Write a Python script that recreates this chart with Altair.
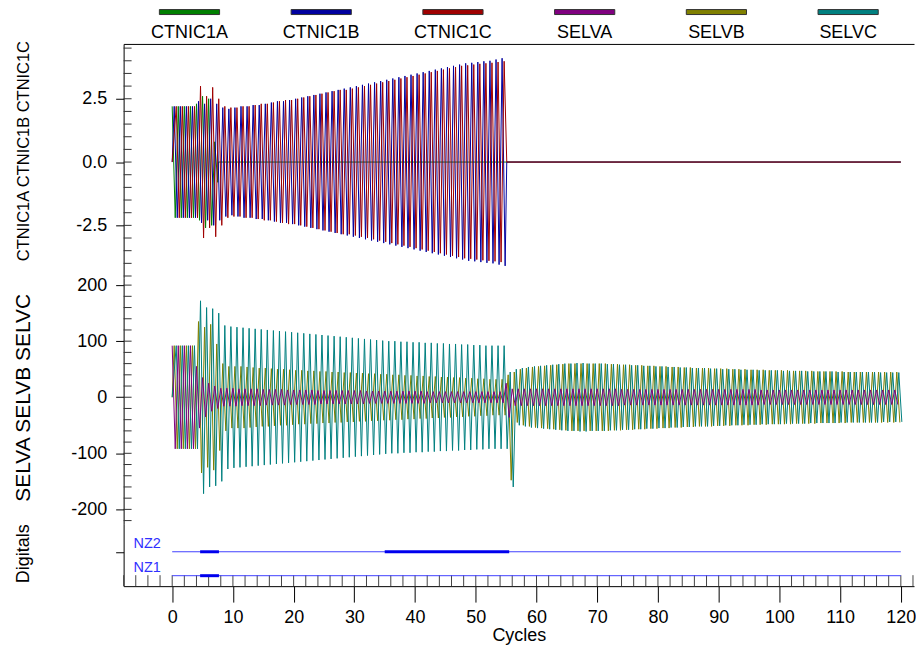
import altair as alt
import pandas as pd

FONT = "Liberation Sans"

# ---------------- data ----------------
series_names = ["CTNIC1A", "CTNIC1B", "CTNIC1C", "SELVA", "SELVB", "SELVC"]
series_colors = ["#008000", "#0000a0", "#a00000", "#800080", "#808000", "#008080"]

# phase offset (fraction of a cycle) of phases A, B, C
phase_A, phase_B, phase_C = 0.0, 1 / 3, 2 / 3

# current channels: peak amplitude per cycle (cycle 0, 1, 2, ...)
cur_amp_A = [2.2, 2.2, 2.2, 2.2, 2.3, 2.6, 2.5, 0.8]
cur_amp_B = [2.2, 2.2, 2.2, 2.2, 2.4, 2.3, 2.5, 2.3,
             2.15, 2.1, 2.15, 2.2, 2.2, 2.25, 2.25, 2.3, 2.35, 2.4, 2.4, 2.45,
             2.5, 2.55, 2.6, 2.65, 2.7, 2.75, 2.8, 2.85, 2.9, 2.95,
             3.0, 3.05, 3.1, 3.15, 3.2, 3.25, 3.3, 3.35, 3.4, 3.45,
             3.5, 3.55, 3.6, 3.65, 3.7, 3.75, 3.8, 3.85, 3.9, 3.92,
             3.95, 3.98, 4.0, 4.05, 4.1]
cur_amp_C = [2.2, 2.2, 2.2, 2.2, 3.0, 2.6, 2.95, 2.5,
             2.2, 2.15, 2.15, 2.2, 2.2, 2.25, 2.3, 2.3, 2.35, 2.4, 2.45, 2.45,
             2.5, 2.55, 2.6, 2.65, 2.7, 2.75, 2.8, 2.85, 2.85, 2.9,
             2.95, 3.0, 3.05, 3.1, 3.15, 3.2, 3.25, 3.3, 3.35, 3.4,
             3.45, 3.5, 3.55, 3.6, 3.65, 3.7, 3.75, 3.8, 3.82, 3.85,
             3.88, 3.9, 3.92, 3.95, 3.98]
cur_end_A = 7.6
cur_end_BC = 55.1

# voltage channels: peak amplitude per cycle
volt_amp_A = [92, 92, 92, 92, 55, 35, 25, 20, 16, 16,
              16, 15, 15, 15, 15, 14, 14, 14, 14, 13,
              13, 13, 13, 13, 12, 12, 12, 12, 12, 12,
              12, 12, 11, 11, 11, 11, 11, 11, 11, 11,
              11, 11, 10, 10, 10, 10, 10, 10, 10, 10,
              10, 10, 10, 10, 10, 25, 15, 15, 15, 15,
              15, 15, 15, 15, 15, 15, 15, 15, 15, 15,
              15, 15, 15, 15, 14, 14, 14, 14, 14, 14,
              14, 14, 14, 14, 14, 14, 14, 14, 14, 14,
              14, 14, 14, 14, 14, 14, 14, 13, 13, 13,
              13, 13, 13, 13, 13, 13, 13, 13, 13, 13,
              13, 13, 13, 13, 13, 13, 13, 13, 13, 13]
volt_amp_B = [92, 92, 92, 92, 135, 125, 130, 95, 60, 55,
              55, 55, 54, 53, 52, 52, 51, 50, 50, 49,
              48, 48, 47, 47, 46, 46, 45, 45, 44, 44,
              43, 43, 42, 42, 41, 41, 40, 40, 39, 39,
              38, 38, 37, 37, 36, 36, 35, 35, 34, 34,
              33, 33, 32, 32, 32, 40, 45, 50, 52, 54,
              55, 56, 57, 58, 59, 60, 60, 60, 60, 60,
              60, 60, 59, 59, 58, 58, 57, 57, 56, 56,
              55, 55, 54, 54, 53, 53, 52, 52, 52, 51,
              51, 51, 50, 50, 50, 49, 49, 49, 48, 48,
              48, 48, 47, 47, 47, 47, 46, 46, 46, 46,
              46, 45, 45, 45, 45, 45, 45, 45, 45, 45]
volt_amp_C = [92, 92, 92, 92, 172, 160, 158, 150, 128, 126,
              125, 124, 123, 122, 121, 120, 119, 118, 117, 116,
              115, 114, 113, 112, 111, 110, 109, 108, 107, 106,
              105, 104, 103, 102, 101, 100, 100, 99, 99, 98,
              98, 97, 97, 96, 96, 95, 95, 94, 94, 93,
              93, 92, 92, 92, 92, 45, 50, 52, 54, 55,
              56, 57, 58, 59, 60, 60, 61, 61, 60, 60,
              60, 59, 59, 58, 58, 57, 57, 56, 56, 55,
              55, 54, 54, 53, 53, 52, 52, 52, 51, 51,
              50, 50, 50, 49, 49, 49, 48, 48, 48, 48,
              47, 47, 47, 47, 46, 46, 46, 46, 46, 45,
              45, 45, 45, 45, 45, 45, 44, 44, 44, 44]
# negative peak transients at fault clearing (cycle index -> value)
volt_spike_A = {55: -36}
volt_spike_B = {55: -148}
volt_spike_C = {55: -160}
volt_end = 120.3

# digital channels
digital_names = ["NZ2", "NZ1"]
digital_levels = [2, 1]
digital_on_name = ["NZ2", "NZ2", "NZ1"]
digital_on_start = [4.6, 35.0, 4.6]
digital_on_end = [7.7, 55.5, 7.7]
record_start, record_end = 0, 120

# axis tick values
x_major = list(range(0, 121, 10))
x_minor = list(range(-8, 123, 2))
top_major = [-2.5, 0.0, 2.5]
top_minor = [v / 2 for v in range(-9, 10)]
mid_major = [-200, -100, 0, 100, 200]
mid_minor = list(range(-220, 201, 20))


def peaks(amps, phase, end_t, spikes=None, start_zero=True, tail_to=None):
    rows = [(0.0, 0.0)] if start_zero else []
    for i, a in enumerate(amps):
        tp, tn = i + phase, i + phase + 0.5
        neg = spikes[i] if spikes and i in spikes else -a
        if tp <= end_t:
            rows.append((tp, a))
        if tn <= end_t:
            rows.append((tn, neg))
    if tail_to is not None:
        rows.append((end_t, 0.0))
        rows.append((tail_to, 0.0))
    return pd.DataFrame(rows, columns=["t", "v"])


cur_A = peaks(cur_amp_A, phase_A, cur_end_A, start_zero=False, tail_to=record_end)
cur_B = peaks(cur_amp_B, phase_B, cur_end_BC, tail_to=record_end)
cur_C = peaks(cur_amp_C, phase_C, cur_end_BC, tail_to=record_end)
volt_A = peaks(volt_amp_A, phase_A, volt_end, volt_spike_A, start_zero=False)
volt_B = peaks(volt_amp_B, phase_B, volt_end, volt_spike_B)
volt_C = peaks(volt_amp_C, phase_C, volt_end, volt_spike_C)

# ---------------- layout ----------------
W = 793
x_scale = alt.Scale(domain=[-8, 122.17], nice=False, zero=False)
top_scale = alt.Scale(domain=[-4.585, 4.665], nice=False, zero=False)
mid_scale = alt.Scale(domain=[-226.7, 212.4], nice=False, zero=False)
dig_scale = alt.Scale(domain=[0.563, 3.146], nice=False, zero=False)

common_axis = dict(grid=False, domainColor="black", tickColor="black", labelColor="black",
                   labelFont=FONT, labelFontSize=18, titleFont=FONT, titleColor="black",
                   titleFontWeight="normal", domainWidth=1, tickWidth=1)

left_title = dict(titleAngle=270, titleAlign="center", titleBaseline="middle", titleX=-100)

top_x_axis = alt.Axis(orient="top", labels=False, ticks=False, domain=True, title=None,
                      grid=False, domainColor="black")
top_y_axis = alt.Axis(values=top_major, format=".1f", tickSize=8, labelPadding=9,
                      labelExpr="replace(datum.label, '\u2212', '-')",
                      title="CTNIC1A CTNIC1B CTNIC1C", titleFontSize=16.5, titleY=107,
                      **left_title, **common_axis)
mid_y_axis = alt.Axis(values=mid_major, format="d", tickSize=8, labelPadding=9,
                      labelExpr="replace(datum.label, '\u2212', '-')",
                      title="SELVA SELVB SELVC", titleFontSize=21, titleY=119.5,
                      **left_title, **common_axis)
dig_y_axis = alt.Axis(values=[2], labels=False, tickSize=8, title="Digitals",
                      titleFontSize=18, titleY=29, **left_title, **common_axis)
bot_x_axis = alt.Axis(values=x_major, tickSize=16, labelPadding=6, labelFlush=False,
                      title="Cycles", titleFontSize=18, titlePadding=1, **common_axis)


def wave_layer(df, color, yscale, yaxis, xaxis=None):
    return alt.Chart(df).mark_line(color=color, strokeWidth=1, clip=True).encode(
        x=alt.X("t:Q", scale=x_scale, axis=xaxis),
        y=alt.Y("v:Q", scale=yscale, axis=yaxis),
    )


def minor_y(values, yscale, yaxis):
    return alt.Chart(pd.DataFrame({"v": values})).mark_rule(color="#333333").encode(
        x=alt.value(0), x2=alt.value(8), y=alt.Y("v:Q", scale=yscale, axis=yaxis)
    )


# legend strip
leg_df = pd.DataFrame({"name": series_names, "color": series_colors})
leg_x = alt.X("name:N", sort=series_names,
              scale=alt.Scale(domain=series_names, paddingInner=0.543, paddingOuter=0.2715),
              axis=None)
leg_bars = alt.Chart(leg_df).mark_rect(stroke="#333333", strokeWidth=1).encode(
    x=leg_x, y=alt.value(0.5), y2=alt.value(5.5),
    color=alt.Color("color:N", scale=None),
)
leg_text = alt.Chart(leg_df).mark_text(font=FONT, fontSize=18, baseline="alphabetic",
                                       color="black").encode(
    x=leg_x, y=alt.value(29), text="name:N")
legend = alt.layer(leg_bars, leg_text).properties(width=W, height=35)

top = alt.layer(
    wave_layer(cur_A, series_colors[0], top_scale, top_y_axis, top_x_axis),
    wave_layer(cur_B, series_colors[1], top_scale, top_y_axis, top_x_axis),
    wave_layer(cur_C, series_colors[2], top_scale, top_y_axis, top_x_axis),
    minor_y(top_minor, top_scale, top_y_axis),
).properties(width=W, height=235)

mid = alt.layer(
    wave_layer(volt_B, series_colors[4], mid_scale, mid_y_axis),
    wave_layer(volt_C, series_colors[5], mid_scale, mid_y_axis),
    wave_layer(volt_A, series_colors[3], mid_scale, mid_y_axis),
    minor_y(mid_minor, mid_scale, mid_y_axis),
).properties(width=W, height=247)

dig_df = pd.DataFrame({"name": digital_names, "level": digital_levels,
                       "t0": record_start, "t1": record_end})
on_df = pd.DataFrame({"name": digital_on_name, "t0": digital_on_start, "t1": digital_on_end})
on_df["level"] = on_df["name"].map(dict(zip(digital_names, digital_levels)))

dig_minor = alt.Chart(pd.DataFrame({"t": x_minor})).mark_rule(color="#444444").encode(
    x=alt.X("t:Q", scale=x_scale, axis=bot_x_axis), y=alt.value(62), y2=alt.value(51))
dig_thin = alt.Chart(dig_df).mark_rule(color="#4040ff", strokeWidth=1).encode(
    x=alt.X("t0:Q", scale=x_scale, axis=bot_x_axis), x2="t1:Q",
    y=alt.Y("level:Q", scale=dig_scale, axis=dig_y_axis))
dig_thick = alt.Chart(on_df).mark_rule(color="#0000ee", strokeWidth=3).encode(
    x=alt.X("t0:Q", scale=x_scale, axis=bot_x_axis), x2="t1:Q",
    y=alt.Y("level:Q", scale=dig_scale, axis=dig_y_axis))
dig_text = alt.Chart(dig_df).mark_text(font=FONT, fontSize=14.5, color="#3030ff",
                                       align="left", baseline="alphabetic", dy=-4).encode(
    x=alt.value(10), y=alt.Y("level:Q", scale=dig_scale, axis=dig_y_axis), text="name:N")
dig = alt.layer(dig_minor, dig_thin, dig_thick, dig_text).properties(width=W, height=62)

chart = alt.vconcat(legend, top, mid, dig, spacing=0, bounds="flush").properties(
    padding={"left": 5, "top": 0, "right": 0, "bottom": 0}
).configure(font=FONT, background="white").configure_view(stroke=None)

chart.save("out.html", embed_options={"renderer": "svg", "actions": False})
